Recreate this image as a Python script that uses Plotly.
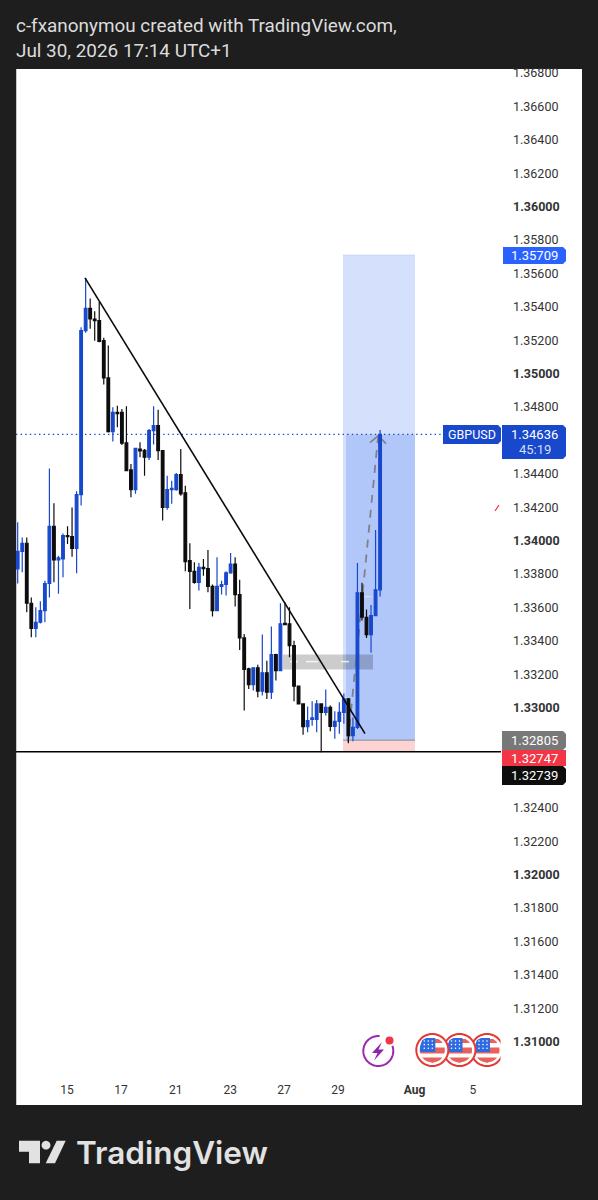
import math
import plotly.graph_objects as go

open_ = [1.33831,1.33936,1.33984,1.33625,1.33475,1.33511,1.33581,1.33743,1.34086,1.33884,1.33890,1.34030,1.34024,1.33954,1.34275,1.35257,1.35391,1.35327,1.35317,1.35197,1.34974,1.34653,1.34768,1.34768,1.34585,1.34423,1.34305,1.34548,1.34540,1.34499,1.34659,1.34689,1.34539,1.34199,1.34305,1.34305,1.34395,1.34286,1.33880,1.33816,1.33750,1.33840,1.33832,1.33726,1.33581,1.33726,1.33737,1.33807,1.33860,1.33677,1.33417,1.33232,1.33138,1.33238,1.33098,1.33208,1.33092,1.33317,1.33222,1.33505,1.33501,1.33371,1.33128,1.33022,1.32886,1.32930,1.32930,1.33022,1.32972,1.33002,1.32888,1.32918,1.32972,1.33052,1.32832,1.32882,1.33687,1.33541,1.33437,1.33551,1.33705]
high = [1.34110,1.34018,1.34018,1.33659,1.33601,1.33637,1.33760,1.34431,1.34223,1.33910,1.34042,1.34086,1.34198,1.34295,1.35277,1.35573,1.35450,1.35373,1.35428,1.35215,1.35168,1.34798,1.34808,1.34788,1.34804,1.34459,1.34553,1.34589,1.34549,1.34669,1.34804,1.34784,1.34539,1.34389,1.34359,1.34405,1.34549,1.34329,1.33984,1.33870,1.33866,1.33890,1.33944,1.33737,1.33900,1.33760,1.33816,1.33926,1.33900,1.33765,1.33441,1.33238,1.33241,1.33257,1.33437,1.33281,1.33485,1.33322,1.33625,1.33631,1.33601,1.33401,1.33132,1.33026,1.33006,1.33038,1.33046,1.33022,1.33108,1.33012,1.32978,1.33032,1.33084,1.33058,1.32940,1.33866,1.33747,1.33587,1.33615,1.34064,1.34663]
low = [1.33743,1.33810,1.33571,1.33421,1.33421,1.33503,1.33511,1.33660,1.33750,1.33681,1.33780,1.33980,1.33904,1.33804,1.34210,1.35245,1.35268,1.35197,1.35187,1.34934,1.34648,1.34593,1.34678,1.34573,1.34415,1.34259,1.34280,1.34499,1.34389,1.34483,1.34575,1.34483,1.34120,1.34184,1.34220,1.34299,1.34269,1.33816,1.33591,1.33741,1.33701,1.33790,1.33690,1.33545,1.33581,1.33677,1.33671,1.33801,1.33605,1.33345,1.32982,1.33112,1.33102,1.33062,1.33072,1.33052,1.33052,1.33162,1.33217,1.33497,1.33301,1.33038,1.33018,1.32838,1.32852,1.32892,1.32852,1.32732,1.32952,1.32858,1.32814,1.32844,1.32904,1.32786,1.32798,1.32872,1.33521,1.33417,1.33328,1.33551,1.33665]
close = [1.33936,1.33984,1.33625,1.33475,1.33511,1.33581,1.33743,1.34086,1.33884,1.33896,1.34030,1.34024,1.33954,1.34275,1.35257,1.35391,1.35327,1.35317,1.35193,1.34974,1.34653,1.34768,1.34760,1.34583,1.34419,1.34305,1.34553,1.34537,1.34499,1.34659,1.34689,1.34539,1.34199,1.34305,1.34313,1.34395,1.34280,1.33874,1.33816,1.33750,1.33840,1.33832,1.33726,1.33581,1.33726,1.33737,1.33807,1.33860,1.33677,1.33417,1.33228,1.33138,1.33238,1.33098,1.33208,1.33092,1.33317,1.33222,1.33501,1.33497,1.33371,1.33128,1.33022,1.32886,1.32922,1.32938,1.33022,1.32972,1.33002,1.32888,1.32918,1.32972,1.33052,1.32832,1.32882,1.33687,1.33541,1.33437,1.33551,1.33705,1.34636]
candle_index = list(range(len(close)))

price_ticks = [1.368,1.366,1.364,1.362,1.36,1.358,1.356,1.354,1.352,1.35,1.348,1.344,1.342,1.34,1.338,1.336,1.334,1.332,1.33,1.324,1.322,1.32,1.318,1.316,1.314,1.312,1.31]
time_ticks = [10.9,22.8,34.9,46.9,58.8,70.7,87.6,100.5]
time_labels = ["15","17","21","23","27","29","<b>Aug</b>","5"]
target, current, entry, stop, support = 1.35709, 1.34636, 1.32805, 1.32739, 1.32735

BG = "#1e1e1e"; BLUE = "#1848cc"; BLACK = "#0d0d0d"; TXT = "#333333"
W, H = 598, 1200
X0, X1, Y0, Y1 = 16, 501, 69, 1072
PX_PER_BAR, BAR0 = 4.53, 17.7
YSHIFT = 0.6
def px(x): return x / W
def py(y): return 1 - y / H
def yprice(y): return 1.34 + (540 - y) * 5.988e-5
def xbar(x): return (x - BAR0) / PX_PER_BAR

fig = go.Figure(go.Candlestick(
    x=candle_index, open=open_, high=high, low=low, close=close,
    increasing=dict(line=dict(color=BLUE, width=1.2), fillcolor=BLUE),
    decreasing=dict(line=dict(color=BLACK, width=1.2), fillcolor=BLACK),
    hoverinfo="skip", showlegend=False))

shapes = []
def rect(x0, y0, x1, y1, fill, layer="below"):
    shapes.append(dict(type="rect", xref="paper", yref="paper", x0=px(x0), x1=px(x1), y0=py(y0), y1=py(y1),
                       fillcolor=fill, line_width=0, layer=layer))
def poly(pts, fill=None, line=None, width=0, close_=True, layer="above"):
    p = "M" + " L".join(f"{px(a):.5f},{py(b):.5f}" for a, b in pts) + (" Z" if close_ else "")
    shapes.append(dict(type="path", xref="paper", yref="paper", path=p, fillcolor=fill or "rgba(0,0,0,0)",
                       line=dict(color=line or "rgba(0,0,0,0)", width=width), layer=layer))
def dline(x0, y0, x1, y1, color, width=1, dash="solid", layer="below"):
    shapes.append(dict(type="line", xref="x", yref="y", x0=x0, x1=x1, y0=y0, y1=y1,
                       line=dict(color=color, width=width, dash=dash), layer=layer))
def drect(x0, y0, x1, y1, fill, layer="below"):
    shapes.append(dict(type="rect", xref="x", yref="y", x0=x0, x1=x1, y0=y0, y1=y1, fillcolor=fill, line_width=0, layer=layer))
def circ(cx, cy, r, a0=0, a1=360, n=64):
    return [(cx + r * math.cos(math.radians(a0 + (a1 - a0) * k / n)), cy + r * math.sin(math.radians(a0 + (a1 - a0) * k / n))) for k in range(n + 1)]
def chord(cx, cy, r, y0, y1, xmin=None):
    pts = []
    for k in range(13):
        y = y0 + (y1 - y0) * k / 12
        pts.append((cx + math.sqrt(max(r*r - (y-cy)**2, 0)), cy + (y - cy)))
    for k in range(13):
        y = y1 + (y0 - y1) * k / 12
        xx = cx - math.sqrt(max(r*r - (y-cy)**2, 0))
        if xmin is not None: xx = max(xx, xmin)
        pts.append((xx, y))
    return pts

# panel
rect(16, 69, 582, 1105, "white")
rect(16, 69, 17, 1105, "#c8c8c8")

# position tool
left, left2, right = xbar(343), xbar(346), xbar(415)
drect(left, entry, right, target, "#d5e0fd")
drect(left2, entry, right, current, "#b1c7fa")
drect(left, stop, right, entry, "#fdd3d3")
dline(left, entry, right, entry, "#8a8a8a", 1)
dline(left, target, right, target, "#c4d3fb", 1)
# current price line
dline(xbar(16), current, xbar(443), current, BLUE, 1.4, "1.4px,3.2px")
# support line and grey range band
dline(xbar(16), support, xbar(501), support, "#000000", 1.5)
drect(xbar(283), yprice(669), xbar(373), yprice(654), "rgba(0,0,0,0.2)")
for a, b in [(290, 298), (306, 318), (341, 349)]:
    dline(xbar(a), yprice(661), xbar(b), yprice(661), "rgba(255,255,255,0.8)", 1.5)
dline(xbar(363), yprice(596), xbar(372), yprice(596), "#d9d9d9", 1.5)
# dashed arrow
dline(xbar(348), yprice(741), xbar(378.3), current, "#808088", 1.8, "8px,7px")
dline(xbar(370), yprice(442), xbar(378.3), yprice(435), "#808088", 1.6)
dline(xbar(378.3), yprice(435), xbar(386), yprice(443), "#808088", 1.6)
# trend line
dline(xbar(85), yprice(277.3), xbar(365), yprice(733), "#0a0a0a", 1.6, layer="above")
# small red mark
poly([(495, 511), (499, 505)], line="#f23645", width=1.2, close_=False)

# price tags
def tag(x0, y0, x1, y1, fill):
    r = 3
    poly([(x0, y0), (x1 - r, y0), (x1, y0 + r), (x1, y1 - r), (x1 - r, y1), (x0, y1)], fill=fill)
tag(503, 247, 566, 264, "#2962ff")
tag(443, 425, 501, 444, BLUE)
tag(502, 425, 566, 459, BLUE)
tag(502, 731, 566, 750, "#787878")
rect(502, 750, 566, 766, "#f23645", "above")
tag(502, 766, 566, 785, "#0d0d0d")

ann = []
def text(x, y, s, size=13, color="white", anchor="center", family="Roboto", weight=None):
    f = dict(family=family, size=size, color=color)
    if weight: f["weight"] = weight
    ann.append(dict(xref="paper", yref="paper", x=px(x), y=py(y), text=s, showarrow=False, xanchor=anchor,
                    yanchor="middle", font=f, align="left", borderpad=0, borderwidth=0))
text(534.5, 255.5, "1.35709")
text(472, 434.5, "GBPUSD", 12.5)
text(534.5, 434, "1.34636")
text(534.5, 449.5, "45:19", 13, "#d5dcf5")
text(534.5, 740.5, "1.32805")
text(534.5, 758.5, "1.32747")
text(534.5, 776, "1.32739")

# event icons
R = "#e53935"
for cx in (487, 459.5, 432.3):
    cy = 1050
    poly(circ(cx, cy, 16), fill="white", line=R, width=2)
    for a, b in [(1039, 1043), (1047.5, 1053.5), (1057.5, 1064)]:
        poly(chord(cx, cy, 12.5, a, b), fill="#e8625c")
    poly([(cx - 10, 1040), (cx - 6, 1038), (cx + 3, 1038), (cx + 3, 1052), (cx - 12.4, 1052), (cx - 12.2, 1046)], fill="#2f6be0")
    for i in range(3):
        for j in range(3):
            shapes.append(dict(type="circle", xref="paper", yref="paper", x0=px(cx - 8 + 4 * i - .8), x1=px(cx - 8 + 4 * i + .8),
                               y0=py(1041 + 3.6 * j - .8), y1=py(1041 + 3.6 * j + .8), fillcolor="white", line_width=0))
    if cx == 487:
        rect(500.5, 1030, 512, 1070, "white", "above")
P = "#9c27b0"
poly(circ(378.3, 1051, 15, -20, 275), line=P, width=2, close_=False)
poly([(382, 1042), (372, 1053), (377.5, 1053), (374, 1060.5), (384, 1049.5), (378.5, 1049.5)], fill="#8e24aa")
shapes.append(dict(type="circle", xref="paper", yref="paper", x0=px(385.5), x1=px(393.5), y0=py(1036.5), y1=py(1044.5), fillcolor="#f23645", line_width=0))

# logo
L = "#e2e2e2"
poly([(19, 1140.7), (40, 1140.7), (40, 1163.3), (29, 1163.3), (29, 1151.7), (19, 1151.7)], fill=L)
poly([(65.7, 1140.7), (55, 1163.3), (45.7, 1163.3), (56.7, 1140.7)], fill=L)
poly(circ(46, 1145.2, 4.4, n=24), fill=L)
text(75.5, 1152.5, "TradingView", 31.5, L, "left", "Inter", 600)
text(15.5, 25, "c-fxanonymou created with TradingView.com,", 18.9, "#dcdcdc", "left")
text(15.5, 51, "Jul 30, 2026 17:14 UTC+1", 18.9, "#dcdcdc", "left")

fig.update_layout(
    width=W, height=H, autosize=False, margin=dict(l=0, r=0, t=0, b=0, pad=0), paper_bgcolor=BG, plot_bgcolor="rgba(0,0,0,0)",
    shapes=shapes, annotations=ann, showlegend=False, hovermode=False, dragmode=False, boxgap=0.35, boxgroupgap=0.1,
    xaxis=dict(domain=[px(X0), px(X1)], range=[xbar(X0), xbar(X1)], rangeslider=dict(visible=False), showgrid=False, zeroline=False, automargin=False,
               tickmode="array", tickvals=time_ticks, ticktext=time_labels, ticks="", showline=False,
               tickfont=dict(family="Roboto", size=12, color=TXT), ticklabelstandoff=9),
    yaxis=dict(domain=[py(Y1), py(Y0)], range=[yprice(Y1 - YSHIFT), yprice(Y0 - YSHIFT)], side="right", showgrid=False, zeroline=False, showline=False, automargin=False,
               tickmode="array", tickvals=price_ticks,
               ticktext=[(f"<b>{v:.5f}</b>" if round(v * 1000) % 10 == 0 else f"{v:.5f}") for v in price_ticks],
               ticks="", tickfont=dict(family="Roboto", size=12.5, color=TXT), ticklabelstandoff=11),
)
fig.write_html("out.html", config=dict(displayModeBar=False),
               post_script="document.body.style.margin='0';document.body.style.background='#1e1e1e';")
